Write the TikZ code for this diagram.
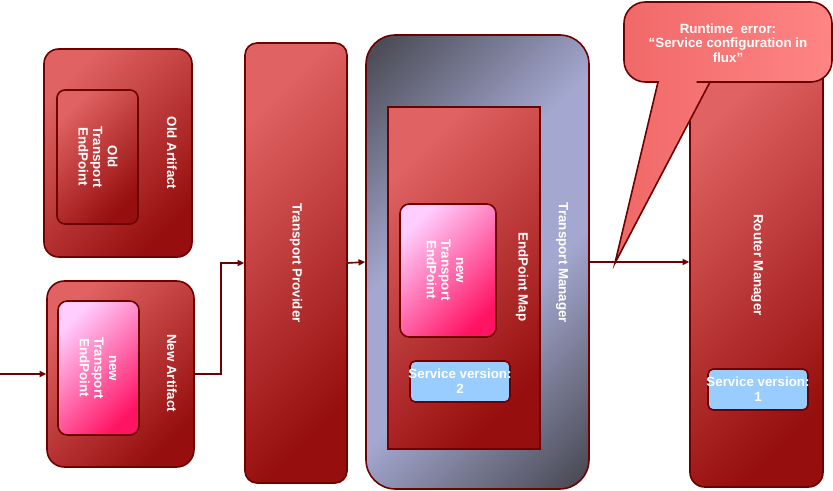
\documentclass[tikz,border=0pt]{standalone}
\usepackage{fontspec}
\setmainfont{Liberation Sans}
\usetikzlibrary{fit,arrows.meta,calc}
\definecolor{maroon}{RGB}{110,0,0}
\definecolor{redL}{RGB}{224,98,98}
\definecolor{redD}{RGB}{150,14,14}
\definecolor{tmDark}{RGB}{70,70,78}
\definecolor{tmLight}{RGB}{164,168,208}
\definecolor{pinkL}{RGB}{255,206,255}
\definecolor{pinkD}{RGB}{255,20,100}
\definecolor{svblue}{RGB}{153,204,255}
\definecolor{callL}{RGB}{240,104,104}
\definecolor{callR}{RGB}{255,132,132}
\pgfdeclareverticalshading{tmshade}{100bp}{color(0bp)=(tmDark); color(15bp)=(tmDark); color(42bp)=(tmLight); color(58bp)=(tmLight); color(85bp)=(tmDark); color(100bp)=(tmDark)}
\begin{document}
\begin{tikzpicture}[x=0.75pt,y=-0.75pt,
  redbox/.style={draw=maroon, line width=1.2pt, top color=redL, bottom color=redD, shading angle=45, inner sep=0pt},
  pinkbox/.style={draw=maroon, line width=1.2pt, top color=pinkL, bottom color=pinkD, shading angle=45, inner sep=0pt, rounded corners=7pt},
  tmbox/.style={draw=maroon, line width=1.2pt, shade, shading=tmshade, shading angle=45, inner sep=0pt, rounded corners=22pt},
  svbox/.style={draw=maroon, line width=1.2pt, fill=svblue, inner sep=0pt, rounded corners=4pt},
  lbl/.style={text=white, font=\bfseries\fontsize{10}{11}\selectfont, align=center, inner sep=0pt},
  vlbl/.style={lbl, rotate=-90},
  conn/.style={draw=maroon, line width=1.2pt, -{Triangle[length=5pt,width=4.5pt]}}
]
\useasboundingbox (0,0) rectangle (833,491);

% Old Artifact
\node[redbox, rounded corners=11pt, fit={(44,49) (192,257)}] (oldart) {};
\node[redbox, rounded corners=6pt, fit={(57,90) (138,224)}] (oldep) {};
\node[vlbl] (oldartlbl) at (172,153) {Old Artifact};
\node[vlbl] (oldeplbl) at (98,157) {Old\\Transport\\EndPoint};

% New Artifact
\node[redbox, rounded corners=13pt, fit={(47,281) (194,467)}] (newart) {};
\node[pinkbox, fit={(58,301) (139,435)}] (newep) {};
\node[vlbl] (newartlbl) at (172,373) {New Artifact};
\node[vlbl] (neweplbl) at (98,368) {new\\Transport\\EndPoint};

% Transport Provider
\node[redbox, rounded corners=9pt, fit={(245,43) (347,483)}] (tp) {};
\node[vlbl] (tplbl) at (296,263) {Transport Provider};

% Transport Manager
\node[tmbox, fit={(366,35) (589,489)}] (tm) {};
\node[redbox, fit={(388,107) (540,449)}] (epmap) {};
\node[pinkbox, fit={(400,204) (496,337)}] (mapep) {};
\node[svbox, fit={(410,361) (510,402)}] (sv2) {};
\node[lbl] (sv2lbl) at (sv2) {Service version:\\2};
\node[vlbl] (mapeplbl) at (445,270) {new\\Transport\\EndPoint};
\node[vlbl] (epmaplbl) at (522,277) {EndPoint Map};
\node[vlbl] (tmlbl) at (562,263) {Transport Manager};

% Router Manager
\node[redbox, rounded corners=11pt, fit={(690,60) (823,487)}] (rm) {};
\node[svbox, fit={(708,369) (808,410)}] (sv1) {};
\node[lbl] (sv1lbl) at (sv1) {Service version:\\1};
\node[vlbl] (rmlbl) at (757,265) {Router Manager};

% connectors
\coordinate (inpt) at (0,374);
\draw[conn] (inpt) -- (newart.west);
\draw[conn] (newart.east) -- ++(26,0) |- (tp.west);
\draw[conn] (tp.east) -- (tm.west);
\draw[conn] (tm.east) -- (tm.east -| rm.west);

% callout
\path[draw=maroon, line width=1.2pt, left color=callL, right color=callR]
  [rounded corners=16pt] (650,82) -- (624,82) -- (624,2) -- (832,2) -- (832,82) -- (718,82)
  [sharp corners] -- (710,82) -- (615,263) -- (658,82) -- cycle;
\node[lbl] (calltext) at (728,43) {Runtime~~error:\\“Service configuration in\\flux”};
\end{tikzpicture}
\end{document}
